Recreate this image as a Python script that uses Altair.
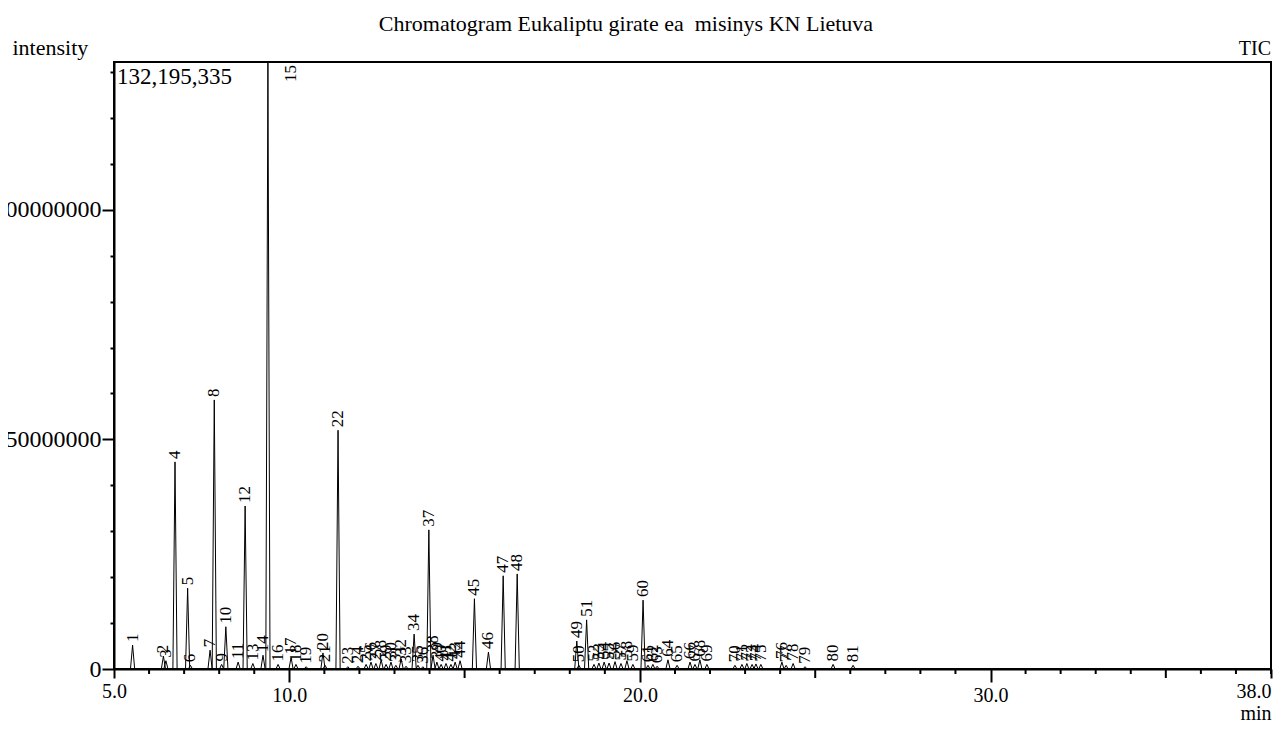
import altair as alt
import pandas as pd

# Peak list
peak_ids = list(range(1, 82))
peak_times = [5.53, 6.41, 6.48, 6.74, 7.10, 7.18, 7.74, 7.86, 8.07, 8.19,
              8.54, 8.74, 8.96, 9.25, 9.39, 9.68, 10.05, 10.19, 10.48, 10.96,
              11.02, 11.39, 11.67, 11.96, 12.19, 12.33, 12.47, 12.62, 12.76, 12.90,
              13.04, 13.19, 13.33, 13.56, 13.67, 13.81, 13.98, 14.10, 14.21, 14.33,
              14.47, 14.61, 14.73, 14.87, 15.28, 15.68, 16.10, 16.50, 18.20, 18.26,
              18.48, 18.69, 18.83, 18.98, 19.12, 19.29, 19.46, 19.63, 19.80, 20.09,
              20.23, 20.37, 20.49, 20.80, 21.06, 21.43, 21.57, 21.71, 21.91, 22.71,
              22.91, 23.05, 23.20, 23.31, 23.45, 24.05, 24.17, 24.37, 24.71, 25.51,
              26.08]
peak_heights_m = [5.2, 2.8, 1.8, 45.1, 17.6, 0.8, 4.1, 58.6, 1.0, 9.2,
                  1.5, 35.5, 1.2, 3.0, 132.195335, 1.0, 2.5, 1.0, 0.5, 3.5,
                  0.8, 52.0, 0.5, 0.6, 1.0, 1.5, 1.2, 2.0, 1.0, 1.5,
                  0.8, 2.2, 0.6, 7.6, 0.8, 0.5, 30.3, 3.0, 1.5, 1.0,
                  1.2, 1.0, 1.5, 1.8, 15.3, 3.7, 20.3, 20.7, 6.1, 0.8,
                  10.7, 1.0, 1.3, 1.5, 1.3, 1.6, 1.2, 1.8, 1.0, 15.0,
                  0.8, 1.0, 0.6, 2.0, 0.8, 1.5, 1.0, 2.0, 1.0, 0.8,
                  1.0, 1.2, 1.0, 1.1, 1.0, 1.5, 0.8, 1.2, 0.5, 1.0,
                  0.8]
y_max = 132195335
x_labelled = [5, 10, 20, 30, 38]
x_medium = [15, 25, 35]
x_minor = [v for v in range(5, 39) if v % 5 != 0]
y_ticks = [v for v in range(0, 140000000, 10000000) if v <= y_max]

half_w = 0.06

peaks = pd.DataFrame({
    "peak": peak_ids,
    "t": peak_times,
    "h": [round(v * 1e6) for v in peak_heights_m],
})
peaks["label"] = peaks["peak"].astype(str)

rows = []
for p, t, h in zip(peaks["peak"], peaks["t"], peaks["h"]):
    rows.append({"peak": p, "t": t - half_w, "h": 0})
    rows.append({"peak": p, "t": t, "h": h})
    rows.append({"peak": p, "t": t + half_w, "h": 0})
trace = pd.DataFrame(rows)

FONT = "Liberation Serif"
W, H = 1157, 607

xscale = alt.Scale(domain=[5, 38], nice=False, zero=False)
yscale = alt.Scale(domain=[0, y_max], nice=False, zero=True)

x_axis = alt.Axis(
    values=x_labelled,
    format=".1f",
    tickSize={"condition": {"test": "datum.value == 10 || datum.value == 20 || datum.value == 30",
                            "value": 13},
              "value": 9},
    tickWidth=2,
    tickColor="black",
    domainColor="black",
    domainWidth=2,
    labelFont=FONT,
    labelFontSize=20,
    labelColor="black",
    labelPadding=3,
    labelAlign={"condition": {"test": "datum.value == 38", "value": "right"},
                "value": "center"},
    labelFlush=False,
    labelOverlap=False,
    grid=False,
    title="min",
    titleFont=FONT,
    titleFontSize=20,
    titleFontWeight="normal",
    titleColor="black",
    titleAlign="right",
    titleBaseline="alphabetic",
    titleX=W,
    titleY=50,
)

y_axis = alt.Axis(
    values=y_ticks,
    labelExpr="datum.value % 50000000 == 0 ? '' + datum.value : ''",
    tickSize={"condition": {"test": "datum.value % 50000000 == 0", "value": 12},
              "value": 4},
    tickWidth=2,
    tickColor="black",
    domainColor="black",
    domainWidth=2,
    labelFont=FONT,
    labelFontSize=24,
    labelColor="black",
    labelPadding=1,
    labelOverlap=False,
    labelFlush=False,
    grid=False,
    title="intensity",
    titleFont=FONT,
    titleFontSize=22,
    titleFontWeight="normal",
    titleColor="black",
    titleAngle=0,
    titleAlign="left",
    titleBaseline="alphabetic",
    titleX=-102,
    titleY=-8,
)

line = alt.Chart(trace).mark_line(color="black", strokeWidth=1).encode(
    x=alt.X("t:Q", scale=xscale, axis=x_axis),
    y=alt.Y("h:Q", scale=yscale, axis=y_axis),
    detail="peak:N",
)

minor = alt.Chart(pd.DataFrame({"t": x_minor})).mark_rule(color="black", strokeWidth=2).encode(
    x=alt.X("t:Q", scale=xscale),
    y=alt.value(H),
    y2=alt.value(H + 5),
)
medium = alt.Chart(pd.DataFrame({"t": x_medium})).mark_rule(color="black", strokeWidth=2).encode(
    x=alt.X("t:Q", scale=xscale),
    y=alt.value(H),
    y2=alt.value(H + 9),
)

labels = alt.Chart(peaks).transform_filter("datum.peak != 15").mark_text(
    angle=270, align="left", baseline="middle", dx=3,
    font=FONT, fontSize=17, color="black",
).encode(
    x=alt.X("t:Q", scale=xscale),
    y=alt.Y("h:Q", scale=yscale),
    text="label:N",
)

label15 = alt.Chart(peaks).transform_filter("datum.peak == 15").mark_text(
    angle=270, align="right", baseline="middle", dx=-3, dy=23,
    font=FONT, fontSize=17, color="black",
).encode(
    x=alt.X("t:Q", scale=xscale),
    y=alt.Y("h:Q", scale=yscale),
    text="label:N",
)

max_df = pd.DataFrame({"t": [5], "h": [y_max], "label": ["{:,}".format(y_max)]})
max_label = alt.Chart(max_df).mark_text(
    align="left", baseline="top", dx=3, dy=4,
    font=FONT, fontSize=23, color="black",
).encode(
    x=alt.X("t:Q", scale=xscale),
    y=alt.Y("h:Q", scale=yscale),
    text="label:N",
)

tic = alt.Chart(pd.DataFrame({"s": ["TIC"]})).mark_text(
    align="right", baseline="alphabetic", font=FONT, fontSize=20, color="black",
).encode(x=alt.value(W), y=alt.value(-7), text="s:N")

title = alt.Chart(pd.DataFrame({"s": ["Chromatogram Eukaliptu girate ea \u00a0misinys KN Lietuva"]})).mark_text(
    align="center", baseline="alphabetic", font=FONT, fontSize=22, color="black",
).encode(x=alt.value(512), y=alt.value(-31), text="s:N")

chart = alt.layer(line, minor, medium, labels, label15, max_label, tic, title).properties(
    width=W,
    height=H,
    autosize=alt.AutoSizeParams(type="none"),
    padding={"left": 106, "top": 54, "right": 2, "bottom": 54},
    background="white",
).configure_view(stroke="black", strokeWidth=2)

chart.save("out.html", embed_options={"renderer": "svg", "actions": False})
